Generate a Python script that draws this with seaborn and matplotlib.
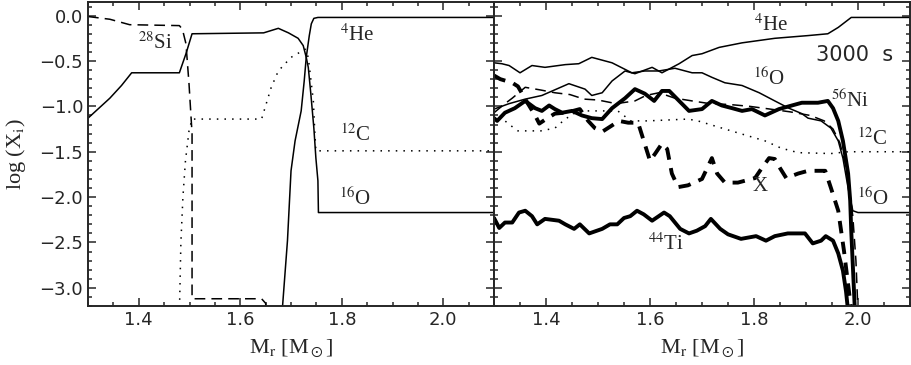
import matplotlib
matplotlib.use("Agg")
import matplotlib.pyplot as plt
from matplotlib.ticker import MultipleLocator
import seaborn as sns
import pandas as pd

sns.set_style("ticks")
plt.rcParams['font.family'] = ['DejaVu Sans']
plt.rcParams['mathtext.fontset'] = 'stix'

## ---------------- left panel (initial composition) ----------------
o16_l_m = [1.30, 1.343, 1.366, 1.386, 1.480, 1.493, 1.505, 1.646, 1.675, 1.695, 1.714, 1.724,
           1.730, 1.734, 1.739, 1.745, 1.749, 1.753, 1.754, 2.10]
o16_l_x = [-1.13, -0.91, -0.77, -0.63, -0.63, -0.42, -0.20, -0.19, -0.14, -0.19, -0.25, -0.33,
           -0.46, -0.57, -0.86, -1.24, -1.57, -1.82, -2.17, -2.17]

he4_l_m = [1.682, 1.693, 1.700, 1.708, 1.720, 1.726, 1.730, 1.736, 1.740, 1.745, 1.753, 2.10]
he4_l_x = [-3.30, -2.48, -1.71, -1.38, -1.05, -0.72, -0.46, -0.22, -0.09, -0.03, -0.02, -0.02]

si28_l_m = [1.30, 1.343, 1.382, 1.480, 1.486, 1.493, 1.499, 1.505, 1.505, 1.642, 1.650, 1.653]
si28_l_x = [-0.01, -0.04, -0.10, -0.11, -0.15, -0.31, -0.75, -1.30, -3.12, -3.12, -3.17, -3.40]

c12_l_m = [1.480, 1.483, 1.487, 1.492, 1.499, 1.505, 1.642, 1.661, 1.675, 1.700, 1.728, 1.734,
           1.744, 1.747, 1.749, 2.10]
c12_l_x = [-3.30, -2.50, -2.00, -1.60, -1.27, -1.14, -1.14, -0.79, -0.61, -0.46, -0.37, -0.46,
           -0.94, -1.30, -1.49, -1.49]

## ---------------- right panel (3000 s) ----------------
he4_r_m = [1.30, 1.329, 1.360, 1.392, 1.444, 1.475, 1.488, 1.508, 1.527, 1.552, 1.571, 1.604,
           1.623, 1.656, 1.681, 1.700, 1.733, 1.777, 1.840, 1.904, 1.942, 1.962, 1.987, 2.10]
he4_r_x = [-1.03, -0.97, -0.92, -0.88, -0.75, -0.81, -0.88, -0.85, -0.72, -0.61, -0.64, -0.57,
           -0.63, -0.53, -0.44, -0.42, -0.35, -0.30, -0.25, -0.22, -0.20, -0.13, -0.02, -0.02]

o16_r_m = [1.30, 1.315, 1.329, 1.350, 1.373, 1.398, 1.437, 1.463, 1.488, 1.527, 1.565, 1.590,
           1.617, 1.648, 1.681, 1.700, 1.719, 1.744, 1.777, 1.810, 1.840, 1.867, 1.892, 1.904,
           1.929, 1.948, 1.962, 1.971, 1.981, 1.990, 2.000, 2.10]
o16_r_x = [-0.52, -0.53, -0.55, -0.63, -0.55, -0.57, -0.54, -0.53, -0.46, -0.52, -0.63, -0.61,
           -0.61, -0.58, -0.63, -0.63, -0.68, -0.74, -0.77, -0.85, -0.94, -1.02, -1.08, -1.13,
           -1.16, -1.24, -1.38, -1.57, -1.90, -2.15, -2.17, -2.17]

c12_r_m = [1.30, 1.327, 1.346, 1.390, 1.417, 1.437, 1.462, 1.500, 1.538, 1.563, 1.596, 1.673,
           1.692, 1.756, 1.821, 1.852, 1.885, 1.948, 1.981, 2.10]
c12_r_x = [-1.05, -1.19, -1.27, -1.27, -1.24, -1.14, -1.05, -1.05, -1.05, -1.16, -1.16, -1.14,
           -1.16, -1.27, -1.38, -1.46, -1.51, -1.52, -1.50, -1.50]

si28_r_m = [1.30, 1.321, 1.335, 1.360, 1.390, 1.417, 1.446, 1.473, 1.500, 1.535, 1.571, 1.592,
            1.617, 1.648, 1.681, 1.715, 1.754, 1.792, 1.831, 1.869, 1.908, 1.935, 1.952, 1.965,
            1.975, 1.983, 1.990, 1.996, 2.000]
si28_r_x = [-1.07, -0.97, -0.91, -0.79, -0.82, -0.85, -0.87, -0.92, -0.93, -0.97, -0.94, -0.88,
            -0.85, -0.91, -0.94, -0.97, -0.98, -1.00, -1.03, -1.06, -1.10, -1.16, -1.25, -1.40,
            -1.62, -1.90, -2.21, -2.70, -3.26]

ni56_m = [1.30, 1.306, 1.321, 1.340, 1.360, 1.379, 1.392, 1.406, 1.417, 1.431, 1.450, 1.469,
          1.488, 1.508, 1.527, 1.552, 1.571, 1.590, 1.608, 1.623, 1.637, 1.656, 1.675, 1.700,
          1.719, 1.738, 1.758, 1.777, 1.796, 1.821, 1.848, 1.873, 1.892, 1.923, 1.942, 1.952,
          1.962, 1.971, 1.981, 1.985, 1.987, 1.994]
ni56_x = [-1.13, -1.16, -1.07, -1.02, -0.94, -1.02, -1.05, -0.99, -1.03, -1.07, -1.05, -1.10,
          -1.13, -1.14, -1.02, -0.91, -0.81, -0.86, -0.94, -0.83, -0.83, -0.94, -1.05, -1.03,
          -0.94, -0.99, -1.02, -1.05, -1.03, -1.10, -1.03, -0.99, -0.96, -0.96, -0.94, -1.02,
          -1.16, -1.38, -1.74, -2.04, -2.37, -3.25]

xx_m = [1.30, 1.312, 1.335, 1.346, 1.362, 1.379, 1.387, 1.400, 1.417, 1.435, 1.452, 1.465,
        1.481, 1.494, 1.508, 1.527, 1.540, 1.558, 1.577, 1.588, 1.600, 1.610, 1.623, 1.633,
        1.642, 1.654, 1.673, 1.700, 1.719, 1.729, 1.744, 1.769, 1.802, 1.815, 1.829, 1.840,
        1.850, 1.862, 1.885, 1.904, 1.937, 1.948, 1.962, 1.973, 1.985, 1.988]
xx_x = [-0.66, -0.70, -0.74, -0.78, -0.94, -1.10, -1.19, -1.14, -1.08, -1.07, -1.05, -1.03,
        -1.16, -1.24, -1.28, -1.21, -1.16, -1.18, -1.18, -1.38, -1.60, -1.52, -1.41, -1.47,
        -1.74, -1.89, -1.87, -1.80, -1.57, -1.74, -1.84, -1.84, -1.79, -1.68, -1.57, -1.58,
        -1.68, -1.79, -1.74, -1.71, -1.71, -1.90, -2.15, -2.59, -3.15, -3.26]

ti44_m = [1.30, 1.310, 1.321, 1.335, 1.348, 1.360, 1.373, 1.383, 1.398, 1.425, 1.437, 1.454,
          1.465, 1.483, 1.508, 1.523, 1.537, 1.550, 1.562, 1.575, 1.588, 1.604, 1.627, 1.638,
          1.658, 1.675, 1.690, 1.706, 1.717, 1.735, 1.750, 1.775, 1.804, 1.823, 1.840, 1.865,
          1.898, 1.913, 1.929, 1.938, 1.952, 1.962, 1.971, 1.977, 1.981]
ti44_x = [-2.23, -2.34, -2.28, -2.28, -2.17, -2.15, -2.21, -2.30, -2.24, -2.26, -2.30, -2.35,
          -2.30, -2.40, -2.35, -2.30, -2.30, -2.23, -2.21, -2.15, -2.19, -2.26, -2.17, -2.21,
          -2.35, -2.40, -2.37, -2.32, -2.24, -2.35, -2.41, -2.46, -2.43, -2.48, -2.43, -2.40,
          -2.40, -2.51, -2.48, -2.43, -2.48, -2.62, -2.81, -3.04, -3.26]

thin, thick = 1.1, 2.8
dashed_thin = (0, (7, 4))
dashed_thick = (0, (3.2, 2.2))
dotted = (0, (1, 4))

fig = plt.figure(figsize=(9.12, 3.65), dpi=100)
axl = fig.add_axes([0.0965, 0.1616, 0.4452, 0.8329])
axr = fig.add_axes([0.5417, 0.1616, 0.4561, 0.8329])


def curve(ax, m, x, lw, ls):
    df = pd.DataFrame({'m': m, 'x': x})
    sns.lineplot(data=df, x='m', y='x', ax=ax, sort=False, estimator=None,
                 color='black', lw=lw, linestyle=ls,
                 solid_joinstyle='round', dash_joinstyle='round')


curve(axl, o16_l_m, o16_l_x, thin, '-')
curve(axl, he4_l_m, he4_l_x, thin, '-')
curve(axl, si28_l_m, si28_l_x, thin, dashed_thin)
curve(axl, c12_l_m, c12_l_x, thin, dotted)

curve(axr, he4_r_m, he4_r_x, thin, '-')
curve(axr, o16_r_m, o16_r_x, thin, '-')
curve(axr, c12_r_m, c12_r_x, thin, dotted)
curve(axr, si28_r_m, si28_r_x, thin, dashed_thin)
curve(axr, ni56_m, ni56_x, thick, '-')
curve(axr, xx_m, xx_x, thick, dashed_thick)
curve(axr, ti44_m, ti44_x, thick, '-')

lab = dict(family=['Liberation Serif'], fontsize=15, ha='center', va='center')
axl.text(1.433, -0.30, r'$^{28}$Si', **lab)
axl.text(1.831, -0.22, r'$^{4}$He', **lab)
axl.text(1.827, -1.32, r'$^{12}$C', **lab)
axl.text(1.827, -2.02, r'$^{16}$O', **lab)

axr.text(1.833, -0.11, r'$^{4}$He', **lab)
axr.text(1.829, -0.70, r'$^{16}$O', **lab)
axr.text(1.985, -0.94, r'$^{56}$Ni', **lab)
axr.text(2.027, -1.36, r'$^{12}$C', **lab)
axr.text(1.812, -1.88, 'X', **lab)
axr.text(2.029, -2.02, r'$^{16}$O', **lab)
axr.text(1.631, -2.52, r'$^{44}$Ti', **lab)
axr.text(1.994, -0.43, '3000  s', fontsize=15, ha='center', va='center')

for ax in (axl, axr):
    ax.set_xlim(1.3, 2.1)
    ax.set_ylim(-3.2, 0.15)
    ax.xaxis.set_major_locator(MultipleLocator(0.2))
    ax.xaxis.set_minor_locator(MultipleLocator(0.05))
    ax.yaxis.set_major_locator(MultipleLocator(0.5))
    ax.yaxis.set_minor_locator(MultipleLocator(0.1))
    ax.tick_params(which='both', direction='in', top=True, right=True, labelsize=13, width=1.1)
    ax.tick_params(which='major', length=6)
    ax.tick_params(which='minor', length=3)
    for s in ax.spines.values():
        s.set_linewidth(1.4)
    ax.set_xlabel(r'M$_{\rm r}$ [M$_\odot$]', family=['Liberation Serif'], fontsize=16, labelpad=6)

axl.set_ylabel(r'log (X$_{\rm i}$)', family=['Liberation Serif'], fontsize=16, labelpad=8)
axr.set_ylabel('')
axr.tick_params(labelleft=False)

fig.savefig('out.png', dpi=100)
